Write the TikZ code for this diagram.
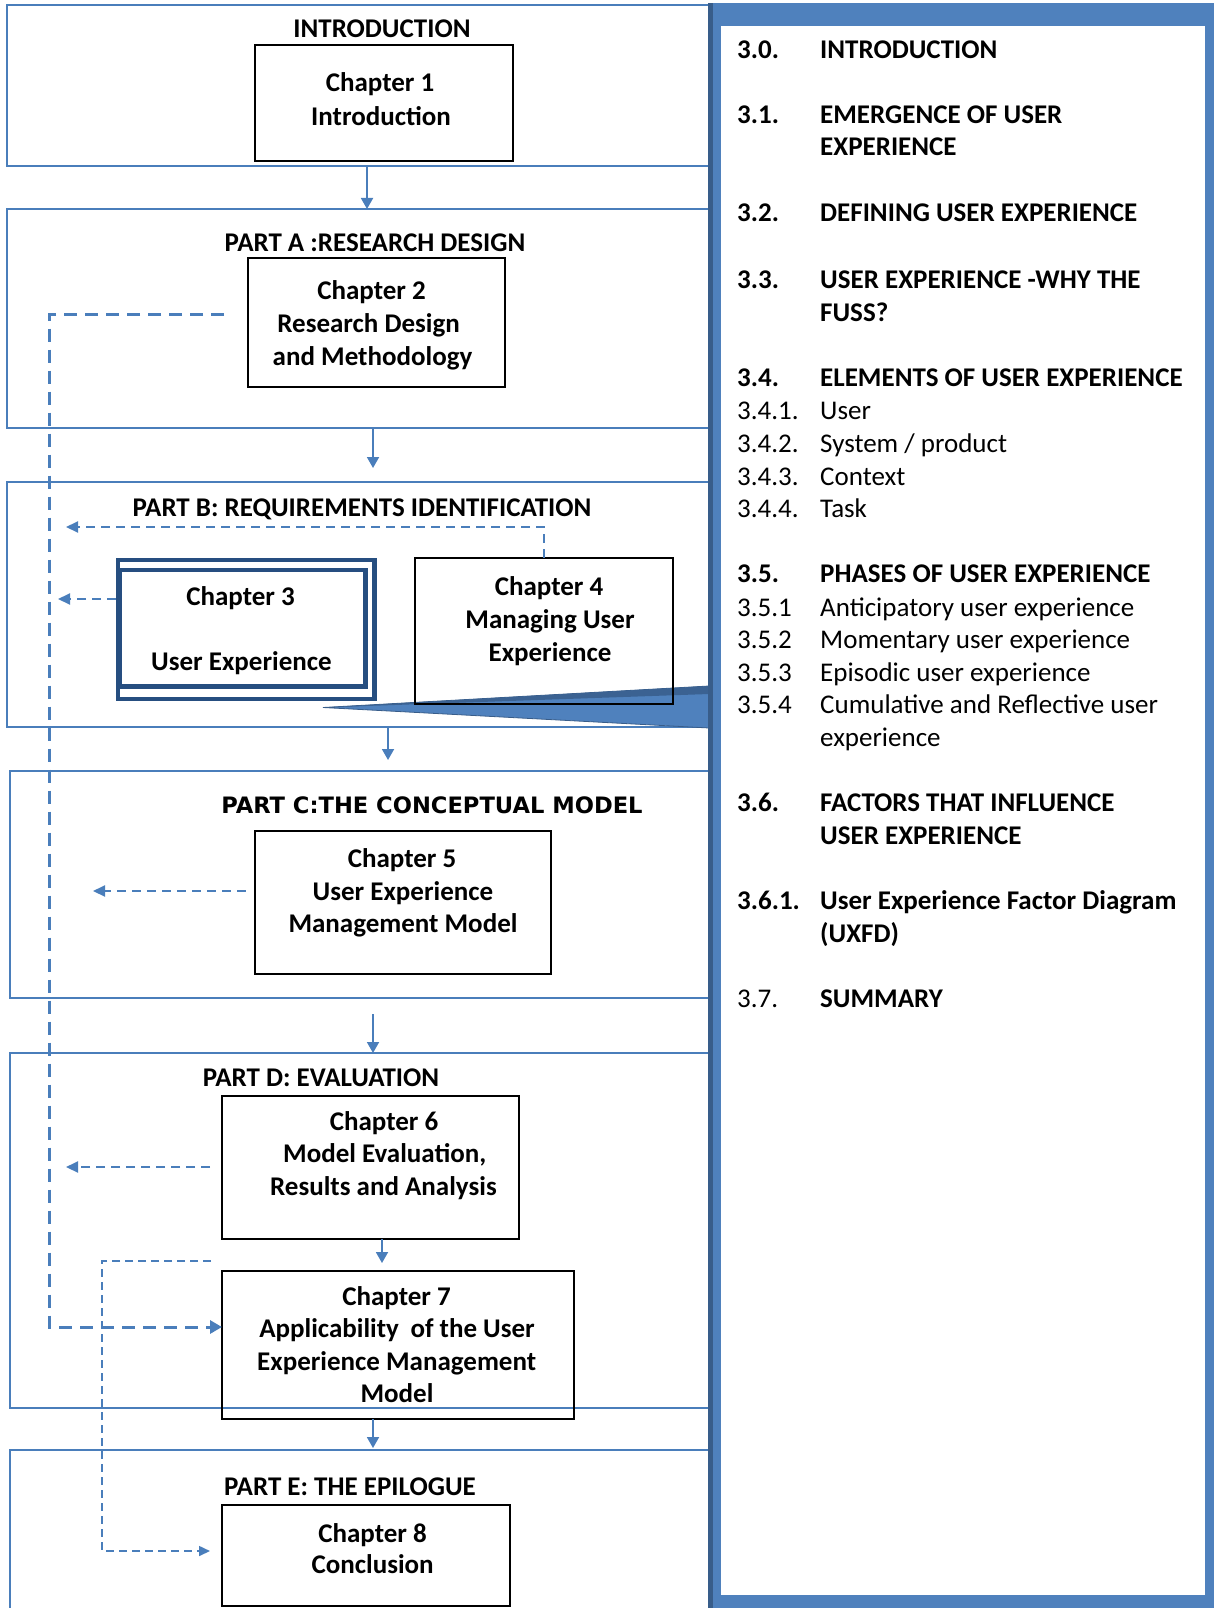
\documentclass[tikz,border=0pt]{standalone}
\usepackage{fontspec}
\setmainfont{Carlito}
\newfontfamily\dvfont{DejaVu Sans}
\usetikzlibrary{arrows.meta}
\definecolor{linkblue}{HTML}{4A7EBB}
\definecolor{panelblue}{HTML}{4F81BD}
\definecolor{paneldark}{HTML}{385D8A}
\definecolor{navy}{HTML}{264E80}
\begin{document}
\begin{tikzpicture}[x=1pt,y=-1pt,
  secbox/.style={draw=linkblue, line width=1.8pt, inner sep=0pt, outer sep=0pt},
  chbox/.style={draw=black, line width=2pt, inner sep=0pt, outer sep=0pt},
  navybox/.style={draw=navy, line width=4.5pt, inner sep=0pt, outer sep=0pt},
  ltxt/.style={font=\bfseries\fontsize{27}{32.5}\selectfont, anchor=base, inner sep=0pt},
  ptxt/.style={font=\fontsize{27}{32.5}\selectfont, anchor=base west, inner sep=0pt},
  pbold/.style={font=\bfseries\fontsize{27}{32.5}\selectfont, anchor=base west, inner sep=0pt},
  arr/.style={draw=linkblue, line width=1.8pt, -{Triangle[length=11pt,width=12pt]}},
  dthick/.style={draw=linkblue, line width=3pt, dash pattern=on 13pt off 8pt, -{Triangle[length=12pt,width=13pt]}},
  dthin/.style={draw=linkblue, line width=2pt, dash pattern=on 9pt off 6pt, -{Triangle[length=12pt,width=11pt]}},
  dfine/.style={draw=linkblue, line width=1.6pt, dash pattern=on 8pt off 5pt, -{Triangle[length=11pt,width=10pt]}},
]
\useasboundingbox (0,0) rectangle (1214,1608);

% part frames
\node[secbox, minimum width=703.7pt, minimum height=161.3pt] (secI) at (359.15,85.35) {};
\node[secbox, minimum width=703.7pt, minimum height=219pt] (secA) at (359.15,318.5) {};
\node[secbox, minimum width=703.7pt, minimum height=245pt] (secB) at (359.15,604.5) {};
\node[secbox, minimum width=701pt, minimum height=227pt] (secC) at (360.5,884.5) {};
\node[secbox, minimum width=701pt, minimum height=355pt] (secD) at (360.5,1230.5) {};
\node[secbox, minimum width=701pt, minimum height=170pt] (secE) at (360.5,1535) {};

% callout pointer from chapter 3 to the contents panel
\fill[panelblue, draw=paneldark, line width=0.8pt] (323,707.5) -- (709,686) -- (709,728) -- cycle;
\fill[paneldark!85!panelblue] (323,707.5) -- (709,686) -- (709,694) -- cycle;

% chapter boxes
\node[chbox, line width=2.2pt, minimum width=258pt, minimum height=116pt] (ch1) at (384,103) {};
\node[chbox, line width=1.4pt, minimum width=257pt, minimum height=129pt] (ch2) at (376.5,322.5) {};
\node[navybox, minimum width=256.6pt, minimum height=139pt] (ch3o) at (246.3,629.5) {};
\node[navybox, minimum width=246pt, minimum height=116.7pt] (ch3i) at (242.5,628.35) {};
\node[chbox, minimum width=258pt, minimum height=146pt] (ch4) at (543.6,631) {};
\node[chbox, minimum width=296pt, minimum height=143pt] (ch5) at (403,902.5) {};
\node[chbox, minimum width=297pt, minimum height=143pt] (ch6) at (370.5,1167.5) {};
\node[chbox, minimum width=352pt, minimum height=148pt] (ch7) at (398,1345) {};
\node[chbox, minimum width=288pt, minimum height=101pt] (ch8) at (366,1555.5) {};

% part titles
\node[ltxt] (tI) at (382,38) {INTRODUCTION};
\node[ltxt] (tA) at (375,251) {PART A :RESEARCH DESIGN};
\node[ltxt] (tB) at (362,516) {PART B: REQUIREMENTS IDENTIFICATION};
\node[ltxt, font=\dvfont\bfseries\fontsize{22.6}{27}\selectfont] (tC) at (432,813) {PART C:THE CONCEPTUAL MODEL};
\node[ltxt] (tD) at (321,1086) {PART D: EVALUATION};
\node[ltxt] (tE) at (350,1495) {PART E: THE EPILOGUE};

% chapter captions
\node[ltxt] (c1a) at (380,92) {Chapter 1};
\node[ltxt] (c1b) at (381,126) {Introduction};
\node[ltxt] (c2a) at (371.5,299) {Chapter 2};
\node[ltxt] (c2b) at (368.6,332) {Research Design};
\node[ltxt] (c2c) at (372.5,365) {and Methodology};
\node[ltxt] (c3a) at (240.6,605) {Chapter 3};
\node[ltxt] (c3b) at (241.5,670) {User Experience};
\node[ltxt] (c4a) at (549,595) {Chapter 4};
\node[ltxt] (c4b) at (550,628) {Managing User};
\node[ltxt] (c4c) at (550,661) {Experience};
\node[ltxt] (c5a) at (402,867) {Chapter 5};
\node[ltxt] (c5b) at (403,900) {User Experience};
\node[ltxt] (c5c) at (403,932) {Management Model};
\node[ltxt] (c6a) at (384,1130) {Chapter 6};
\node[ltxt] (c6b) at (384.7,1162) {Model Evaluation,};
\node[ltxt] (c6c) at (383.4,1195) {Results and Analysis};
\node[ltxt] (c7a) at (396.5,1305) {Chapter 7};
\node[ltxt] (c7b) at (397,1337) {Applicability\hspace{0.2em} of the User};
\node[ltxt] (c7c) at (396.7,1370) {Experience Management};
\node[ltxt] (c7d) at (397,1402) {Model};
\node[ltxt] (c8a) at (372.6,1542) {Chapter 8};
\node[ltxt] (c8b) at (372.6,1573) {Conclusion};

% flow arrows between parts and chapters
\coordinate (k1) at (367,209);
\coordinate (k2) at (373,468);
\coordinate (k3) at (388,760);
\coordinate (k4s) at (373,1014);
\coordinate (k5) at (382,1263);
\coordinate (k6) at (373,1448);
\draw[arr] (secI.south -| k1) -- (k1);
\draw[arr] (secA.south -| k2) -- (k2);
\draw[arr] (secB.south -| k3) -- (k3);
\draw[arr] (k4s) -- (secD.north -| k4s);
\draw[arr] (ch6.south -| k5) -- (k5);
\draw[arr] (ch7.south -| k6) -- (k6);

% feedback links
\coordinate (r1) at (49.6,314);
\coordinate (r2) at (49.6,1327);
\draw[dthick, shorten <=24pt] (ch2.west |- r1) -- (r1) -- (r2) -- (r2 -| ch7.west);

\coordinate (q4) at (66,527);
\coordinate (q3) at (58,599);
\coordinate (q5) at (93,891);
\coordinate (q6) at (66,1167);
\draw[dthin] (ch4.north) |- (q4);
\draw[dthin, shorten <=2pt] (ch3o.west |- q3) -- (q3);
\draw[dthin, shorten <=9.5pt] (ch5.west |- q5) -- (q5);
\draw[dthin, shorten <=12pt] (ch6.west |- q6) -- (q6);

\coordinate (s1) at (102,1261);
\coordinate (s2) at (102,1551);
\draw[dfine, shorten <=11pt, shorten >=12pt] (ch7.west |- s1) -- (s1) -- (s2) -- (s2 -| ch8.west);

% contents panel of chapter 3
\fill[panelblue] (708,3.3) rectangle (1214,1610);
\fill[paneldark] (708,3.3) rectangle (713,1610);
\fill[white] (720.5,26) rectangle (1205,1595);

\node[pbold] (n30) at (737,59) {3.0.};
\node[pbold] (h30) at (820,59) {INTRODUCTION};
\node[pbold] (n31) at (737,124) {3.1.};
\node[pbold] (h31a) at (820,124) {EMERGENCE OF USER};
\node[pbold] (h31b) at (820,156) {EXPERIENCE};
\node[pbold] (n32) at (737,222) {3.2.};
\node[pbold] (h32) at (820,222) {DEFINING USER EXPERIENCE};
\node[pbold] (n33) at (737,288) {3.3.};
\node[pbold] (h33a) at (820,288) {USER EXPERIENCE -WHY THE};
\node[pbold] (h33b) at (820,321) {FUSS?};
\node[pbold] (n34) at (737,386) {3.4.};
\node[pbold] (h34) at (820,386) {ELEMENTS OF USER EXPERIENCE};
\node[ptxt] (n341) at (737,419) {3.4.1.};
\node[ptxt] (h341) at (820,419) {User};
\node[ptxt] (n342) at (737,452) {3.4.2.};
\node[ptxt] (h342) at (820,452) {System / product};
\node[ptxt] (n343) at (737,485) {3.4.3.};
\node[ptxt] (h343) at (820,485) {Context};
\node[ptxt] (n344) at (737,517) {3.4.4.};
\node[ptxt] (h344) at (820,517) {Task};
\node[pbold] (n35) at (737,582) {3.5.};
\node[pbold] (h35) at (820,582) {PHASES OF USER EXPERIENCE};
\node[ptxt] (n351) at (737,616) {3.5.1};
\node[ptxt] (h351) at (820,616) {Anticipatory user experience};
\node[ptxt] (n352) at (737,648) {3.5.2};
\node[ptxt] (h352) at (820,648) {Momentary user experience};
\node[ptxt] (n353) at (737,681) {3.5.3};
\node[ptxt] (h353) at (820,681) {Episodic user experience};
\node[ptxt] (n354) at (737,713) {3.5.4};
\node[ptxt] (h354a) at (820,713) {Cumulative and Reflective user};
\node[ptxt] (h354b) at (820,746) {experience};
\node[pbold] (n36) at (737,811) {3.6.};
\node[pbold] (h36a) at (820,811) {FACTORS THAT INFLUENCE};
\node[pbold] (h36b) at (820,844) {USER EXPERIENCE};
\node[pbold] (n361) at (737,909) {3.6.1.};
\node[pbold] (h361a) at (820,909) {User Experience Factor Diagram};
\node[pbold] (h361b) at (820,942) {(UXFD)};
\node[ptxt] (n37) at (737,1007) {3.7.};
\node[pbold] (h37) at (820,1007) {SUMMARY};
\end{tikzpicture}
\end{document}
